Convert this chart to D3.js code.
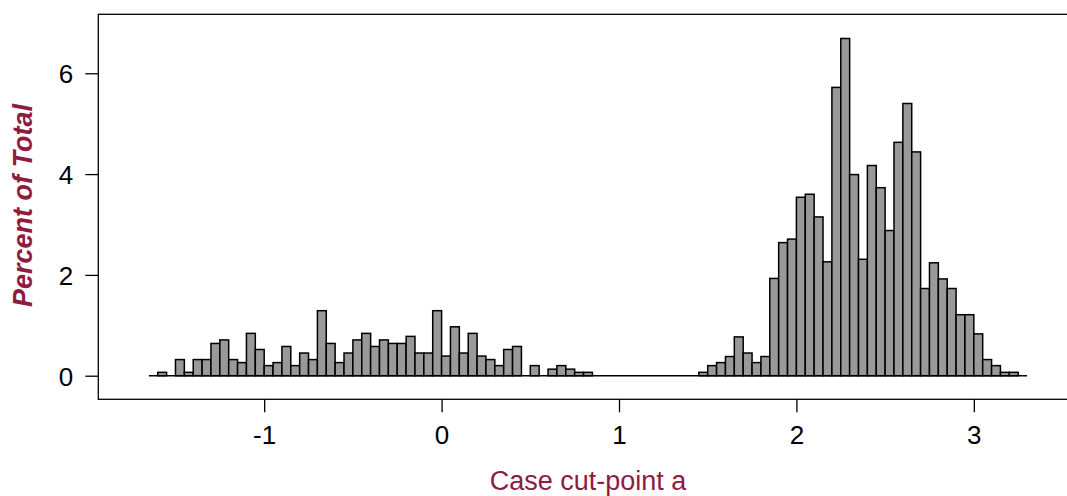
<!DOCTYPE html>
<html>
<head>
<meta charset="utf-8">
<script src="https://cdn.jsdelivr.net/npm/d3@7"></script>
<style>
  body { margin: 0; background: #fff; }
  svg text { font-family: "Liberation Sans", Arial, sans-serif; }
</style>
</head>
<body>
<svg id="chart" width="1067" height="496"></svg>
<script>
// bin edges of the histogram (width 0.05)
var breakStart = -1.65;
var breakStep = 0.05;

// percent of total in each bin, from -1.65 up to 3.30
var percent = [
    0, 0.067, 0, 0.32, 0.067, 0.32, 0.32, 0.64, 0.71, 0.32,
    0.26, 0.84, 0.52, 0.2, 0.26, 0.58, 0.2, 0.45, 0.32, 1.29,
    0.64, 0.26, 0.45, 0.71, 0.84, 0.58, 0.71, 0.64, 0.64, 0.78,
    0.45, 0.45, 1.29, 0.39, 0.97, 0.45, 0.84, 0.39, 0.32, 0.2,
    0.52, 0.58, 0, 0.2, 0, 0.13, 0.2, 0.13, 0.067, 0.067,
    0, 0, 0, 0, 0, 0, 0, 0, 0, 0,
    0, 0, 0.067, 0.2, 0.26, 0.38, 0.77, 0.45, 0.26, 0.38,
    1.93, 2.64, 2.71, 3.54, 3.60, 3.15, 2.26, 5.72, 6.69, 3.99,
    2.31, 4.17, 3.73, 2.88, 4.63, 5.40, 4.44, 1.73, 2.24, 1.92,
    1.73, 1.21, 1.21, 0.83, 0.32, 0.2, 0.067, 0.067, 0
];

var xTicks = [-1, 0, 1, 2, 3];
var yTicks = [0, 2, 4, 6];

var bins = percent.map(function (p, i) {
    var x0 = +(breakStart + i * breakStep).toFixed(2);
    return { x0: x0, x1: +(x0 + breakStep).toFixed(2), pct: p };
});

var svg = d3.select("#chart");
var red = "#8f1b3f";

// panel box: 98.3..1078.5 horizontally (right side runs off the page)
var x = d3.scaleLinear().domain([-1.935, 3.59]).range([98.3, 1078.5]);
var y = d3.scaleLinear().domain([-0.468, 7.17]).range([399.3, 14.3]);

svg.append("rect")
    .attr("x", x.range()[0])
    .attr("y", y.range()[1])
    .attr("width", x.range()[1] - x.range()[0])
    .attr("height", y.range()[0] - y.range()[1])
    .attr("fill", "none")
    .attr("stroke", "#000")
    .attr("stroke-width", 1.3);

// axes, plain labels like R ("-1" with a hyphen)
var plain = function (d) { return String(d); };
var yAxis = svg.append("g")
    .attr("transform", "translate(" + x.range()[0] + ",0)")
    .call(d3.axisLeft(y).tickValues(yTicks).tickFormat(plain).tickSize(13).tickSizeOuter(0).tickPadding(12));
var xAxis = svg.append("g")
    .attr("transform", "translate(0," + y.range()[0] + ")")
    .call(d3.axisBottom(x).tickValues(xTicks).tickFormat(plain).tickSize(13).tickSizeOuter(0).tickPadding(13));

[xAxis, yAxis].forEach(function (g) {
    g.select(".domain").remove();
    g.selectAll(".tick line").attr("stroke", "#000").attr("stroke-width", 1.3);
    g.selectAll(".tick text")
        .attr("fill", "#000")
        .style("font-family", "'Liberation Sans', Arial, sans-serif")
        .style("font-size", "26px");
});
yAxis.selectAll(".tick text").attr("dy", "0.36em");

// bars
svg.append("g")
    .selectAll("rect")
    .data(bins.filter(function (d) { return d.pct > 0; }))
    .enter()
    .append("rect")
    .attr("x", function (d) { return x(d.x0); })
    .attr("y", function (d) { return y(d.pct); })
    .attr("width", function (d) { return x(d.x1) - x(d.x0); })
    .attr("height", function (d) { return y(0) - y(d.pct); })
    .attr("fill", "#999999")
    .attr("stroke", "#000")
    .attr("stroke-width", 1.5);

// zero line over the whole break range
svg.append("line")
    .attr("x1", x(bins[0].x0))
    .attr("x2", x(bins[bins.length - 1].x1))
    .attr("y1", y(0))
    .attr("y2", y(0))
    .attr("stroke", "#000")
    .attr("stroke-width", 1.6);

// titles
svg.append("text")
    .attr("x", 588)
    .attr("y", 490)
    .attr("text-anchor", "middle")
    .attr("fill", red)
    .style("font-size", "27px")
    .text("Case cut-point a");

svg.append("text")
    .attr("transform", "translate(31.5,205.5) rotate(-90)")
    .attr("text-anchor", "middle")
    .attr("fill", red)
    .style("font-size", "27px")
    .style("font-weight", "bold")
    .style("font-style", "italic")
    .text("Percent of Total");
</script>
</body>
</html>
